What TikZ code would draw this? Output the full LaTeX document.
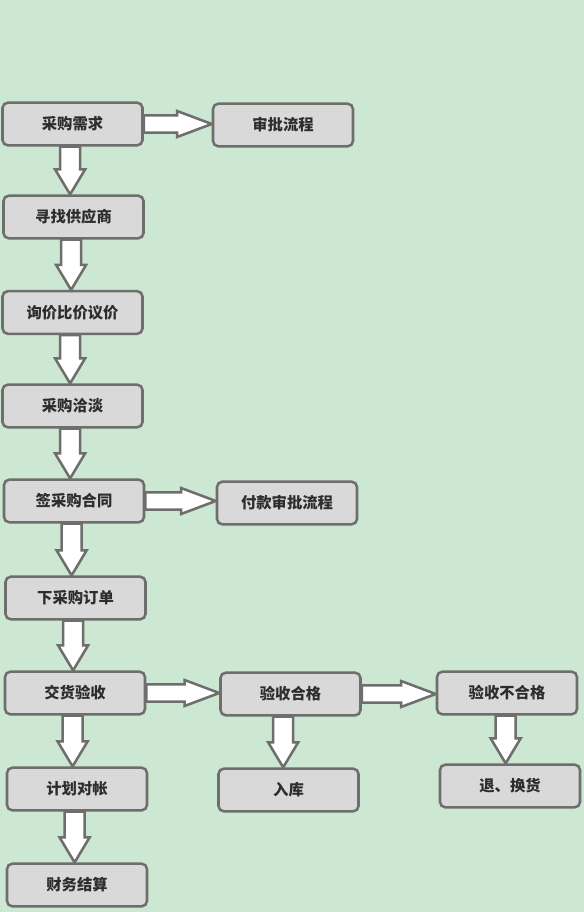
\documentclass[tikz,border=0pt]{standalone}
\usepackage{fontspec}
\setmainfont{Noto Sans CJK SC}
\usetikzlibrary{calc}

\definecolor{bggreen}{RGB}{204,232,210}
\definecolor{boxgray}{RGB}{217,217,217}
\definecolor{linegray}{RGB}{110,110,110}
\definecolor{textgray}{RGB}{45,45,45}

\pgfdeclarelayer{bg}
\pgfdeclarelayer{arrows}
\pgfsetlayers{bg,arrows,main}

\begin{document}
\begin{tikzpicture}[x=0.75pt, y=-0.75pt,
box/.style={draw=linegray, fill=boxgray, line width=1.9pt, rounded corners=4pt,
minimum width=105pt, minimum height=32pt, inner sep=0pt,
font=\fontsize{11.5}{13}\selectfont\bfseries, text=textgray},
fatarrow/.style={draw=linegray, fill=white, line width=1.9pt, line join=miter},
downarrow/.style={fatarrow, to path={let \p1=(\tikztostart), \p2=(\tikztotarget) in
(\x1-7.5pt,\y1) -- (\x1-7.5pt,\y2+18.75pt) -- (\x1-11.25pt,\y2+18.75pt) -- (\x1,\y2)
-- (\x1+11.25pt,\y2+18.75pt) -- (\x1+7.5pt,\y2+18.75pt) -- (\x1+7.5pt,\y1) -- cycle}},
rightarrow/.style={fatarrow, to path={let \p1=(\tikztostart), \p2=(\tikztotarget) in
(\x1,\y1+6.4pt) -- (\x2-26pt,\y1+6.4pt) -- (\x2-26pt,\y1+9.75pt) -- (\x2,\y1)
-- (\x2-26pt,\y1-9.75pt) -- (\x2-26pt,\y1-6.4pt) -- (\x1,\y1-6.4pt) -- cycle}}]

\begin{pgfonlayer}{bg}
\fill[bggreen] (0,0) rectangle (584,912);
\end{pgfonlayer}
\useasboundingbox (0,0) rectangle (584,912);

% left column
\node[box] (cgxq)  at (72.5,124)   {采购需求};
\node[box] (xzgys) at (73.5,217)   {寻找供应商};
\node[box] (xjbj)  at (72.5,312.5) {询价比价议价};
\node[box] (cgqt)  at (72.5,406)   {采购洽淡};
\node[box] (qht)   at (74,501)     {签采购合同};
\node[box] (xdd)   at (75.5,598)   {下采购订单};
\node[box] (jhys)  at (75,693)     {交货验收};
\node[box] (jhdz)  at (77,789)     {计划对帐};
\node[box] (cwjs)  at (77,885)     {财务结算};

% right side
\node[box] (spl)   at (283,125)    {审批流程};
\node[box] (fksp)  at (287,503)    {付款审批流程};
\node[box] (yshg)  at (290.5,694)  {验收合格};
\node[box] (ysbhg) at (507,693)    {验收不合格};
\node[box] (rk)    at (288.5,790)  {入库};
\node[box] (thh)   at (510,786)    {退、换货};

% block arrows
\begin{pgfonlayer}{arrows}
\draw[rightarrow] (cgxq.east) to (spl.west);
\draw[rightarrow] (qht.east) to (fksp.west);
\draw[rightarrow] (jhys.east) to (yshg.west);
\draw[rightarrow] (yshg.east) to (ysbhg.west);

\draw[downarrow] ([xshift=-1.8pt]cgxq.south) to (xzgys.north);
\draw[downarrow] ([xshift=-1.8pt]xzgys.south) to (xjbj.north);
\draw[downarrow] ([xshift=-1.8pt]xjbj.south) to (cgqt.north);
\draw[downarrow] ([xshift=-1.8pt]cgqt.south) to (qht.north);
\draw[downarrow] ([xshift=-1.8pt]qht.south) to (xdd.north);
\draw[downarrow] ([xshift=-1.8pt]xdd.south) to (jhys.north);
\draw[downarrow] ([xshift=-1.8pt]jhys.south) to (jhdz.north);
\draw[downarrow] ([xshift=-1.8pt]jhdz.south) to (cwjs.north);
\draw[downarrow] ([xshift=-5.5pt]yshg.south) to (rk.north);
\draw[downarrow] ([xshift=-1pt]ysbhg.south) to (thh.north);
\end{pgfonlayer}

\end{tikzpicture}
\end{document}
